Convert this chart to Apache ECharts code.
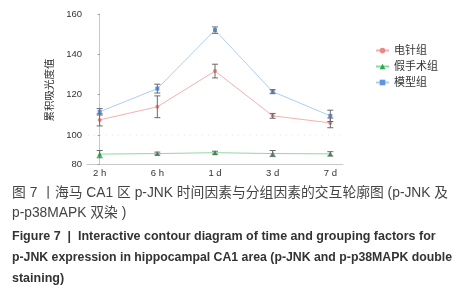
<!DOCTYPE html>
<html><head><meta charset="utf-8">
<script src="https://cdn.jsdelivr.net/npm/echarts@6/dist/echarts.min.js"></script>
<style>html,body{margin:0;padding:0;background:#fff}#c{width:468px;height:300px}</style>
</head><body><div id="c"></div>
<script>
const categories = ['2 h', '6 h', '1 d', '3 d', '7 d'];
const seriesNames = ['电针组', '假手术组', '模型组'];
const acupValues = [107.5, 114, 131.7, 109.5, 106];
const acupErrors = [3, 5.4, 3.4, 1.2, 2.4];
const shamValues = [86.8, 87.2, 87.8, 87.2, 87];
const shamErrors = [2.5, 1, 1, 2.1, 1.5];
const modelValues = [111.5, 123, 152, 121.5, 109.5];
const modelErrors = [1.6, 2.2, 1.6, 1, 2.8];
const yTicksTop = [100, 120, 140, 160];
const yTicksBottom = [80, 100];

const chart = echarts.init(document.getElementById('c'), null, {renderer: 'canvas'});
const idx = categories.map((c, i) => i);
const pts = vals => vals.map((v, i) => [i, v]);
const errs = (vals, e) => vals.map((v, i) => [i, v - e[i], v + e[i]]);
function errRender(params, api) {
  const x = api.value(0);
  const lo = api.coord([x, api.value(1)]);
  const hi = api.coord([x, api.value(2)]);
  const w = 3;
  const st = {stroke: '#6a6a6a', lineWidth: 1};
  return {type: 'group', children: [
    {type: 'line', shape: {x1: lo[0], y1: lo[1], x2: hi[0], y2: hi[1]}, style: st},
    {type: 'line', shape: {x1: lo[0]-w, y1: lo[1], x2: lo[0]+w, y2: lo[1]}, style: st},
    {type: 'line', shape: {x1: hi[0]-w, y1: hi[1], x2: hi[0]+w, y2: hi[1]}, style: st}
  ]};
}
const font = "'Liberation Sans', 'Noto Sans CJK SC', sans-serif";
const xCommon = {type: 'value', min: -0.22, max: 4.22, splitLine: {show: false}};
const option = {
  animation: false,
  textStyle: {fontFamily: font},
  grid: [
    {left: 87, top: 14, width: 256, height: 121},
    {left: 87, top: 135, width: 256, height: 29}
  ],
  xAxis: [
    Object.assign({gridIndex: 0, show: false}, xCommon),
    Object.assign({gridIndex: 1,
      axisLine: {show: true, lineStyle: {color: '#c8c8c8', width: 1}},
      axisTick: {show: false},
      axisLabel: {customValues: idx, formatter: v => categories[Math.round(v)] || '',
        color: '#333', fontSize: 9.5, margin: 5}}, xCommon)
  ],
  yAxis: [
    {gridIndex: 0, type: 'value', min: yTicksTop[0], max: yTicksTop[yTicksTop.length-1], interval: 20,
      axisLine: {show: true, lineStyle: {color: '#c8c8c8'}},
      axisTick: {show: true, length: 2, lineStyle: {color: '#999'}},
      axisLabel: {color: '#333', fontSize: 9.5, margin: 5, showMinLabel: false},
      splitLine: {show: false}},
    {gridIndex: 1, type: 'value', min: yTicksBottom[0], max: yTicksBottom[1], interval: 20,
      axisLine: {show: true, lineStyle: {color: '#c8c8c8'}},
      axisTick: {show: true, length: 2, lineStyle: {color: '#999'}},
      axisLabel: {color: '#333', fontSize: 9.5, margin: 5},
      splitLine: {show: false}}
  ],
  legend: {
    orient: 'vertical', left: 370, top: 40, itemGap: 5, itemWidth: 13, itemHeight: 7,
    data: seriesNames,
    textStyle: {fontSize: 11, color: '#333', fontFamily: font}
  },
  graphic: [
    {type: 'line', shape: {x1: 88, y1: 135, x2: 343, y2: 135}, style: {stroke: '#e4e4e4', lineDash: [1, 5], lineWidth: 1}, z: 0},
    {type: 'text', x: 50, y: 90, rotation: Math.PI/2, style: {text: '累积吸光度值', fontSize: 10.5, fill: '#333', align: 'center', verticalAlign: 'middle', fontFamily: font}},
    {type: 'text', x: 12, y: 193, style: {text: '图 7 丨海马 CA1 区 p-JNK 时间因素与分组因素的交互轮廓图 (p-JNK 及', fontSize: 13.8, fill: '#444', verticalAlign: 'middle', fontFamily: font}},
    {type: 'text', x: 12, y: 213, style: {text: 'p-p38MAPK 双染 )', fontSize: 13.8, fill: '#444', verticalAlign: 'middle', fontFamily: font}},
    {type: 'text', x: 12, y: 237, style: {text: 'Figure 7  |  Interactive contour diagram of time and grouping factors for', fontSize: 12.5, fontWeight: 'bold', fill: '#333', verticalAlign: 'middle', fontFamily: font}},
    {type: 'text', x: 12, y: 258, style: {text: 'p-JNK expression in hippocampal CA1 area (p-JNK and p-p38MAPK double', fontSize: 12.3, fontWeight: 'bold', fill: '#333', verticalAlign: 'middle', fontFamily: font}},
    {type: 'text', x: 12, y: 279, style: {text: 'staining)', fontSize: 12.5, fontWeight: 'bold', fill: '#333', verticalAlign: 'middle', fontFamily: font}}
  ],
  series: [
    {name: seriesNames[0], type: 'line', xAxisIndex: 0, yAxisIndex: 0, data: pts(acupValues),
      symbol: 'circle', symbolSize: 4, itemStyle: {color: '#ef8686'}, lineStyle: {color: '#f4b0b0', width: 1}, z: 3},
    {name: seriesNames[1], type: 'line', xAxisIndex: 1, yAxisIndex: 1, data: pts(shamValues),
      symbol: 'triangle', symbolSize: 5, itemStyle: {color: '#1fae48'}, lineStyle: {color: '#8fd8a2', width: 1}, z: 3},
    {name: seriesNames[2], type: 'line', xAxisIndex: 0, yAxisIndex: 0, data: pts(modelValues),
      symbol: 'rect', symbolSize: 4, itemStyle: {color: '#5d95e3'}, lineStyle: {color: '#afcdef', width: 1}, z: 3},
    {type: 'custom', xAxisIndex: 0, yAxisIndex: 0, renderItem: errRender, data: errs(acupValues, acupErrors), z: 4},
    {type: 'custom', xAxisIndex: 1, yAxisIndex: 1, renderItem: errRender, data: errs(shamValues, shamErrors), z: 4},
    {type: 'custom', xAxisIndex: 0, yAxisIndex: 0, renderItem: errRender, data: errs(modelValues, modelErrors), z: 4}
  ]
};
chart.setOption(option);
</script></body></html>
